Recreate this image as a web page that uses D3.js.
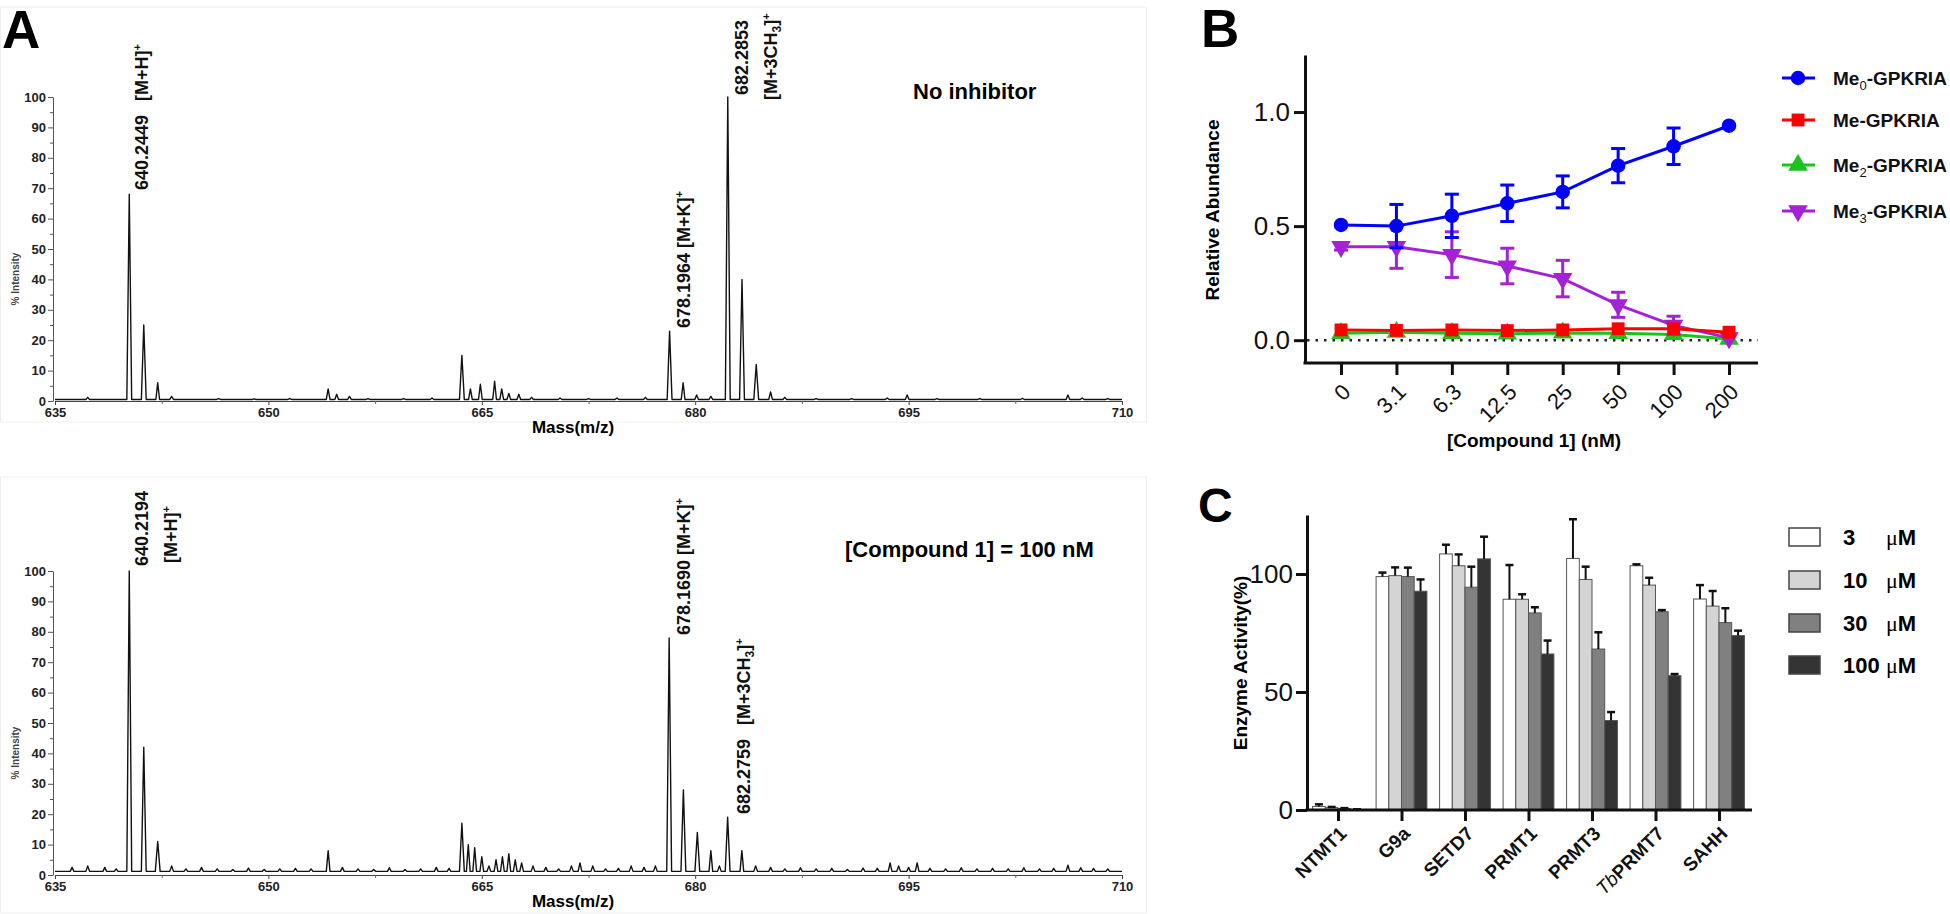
<!DOCTYPE html>
<html>
<head>
<meta charset="utf-8">
<script src="https://cdn.jsdelivr.net/npm/d3@7"></script>
<style>
  body { margin: 0; background: #fff; }
  svg { display: block; font-family: "Liberation Sans", Arial, sans-serif; }
</style>
</head>
<body>
<svg id="fig" width="1950" height="914"></svg>
<script>
// ---------- data ----------
// panel A: MALDI spectra, [m/z, % intensity]
const massTicks = [635, 650, 665, 680, 695, 710]
const massMinorTicks = [642.5, 657.5, 672.5, 687.5, 702.5]
const intensityTicks = [0, 10, 20, 30, 40, 50, 60, 70, 80, 90, 100]

const peaksNoInhibitor = [
  [637.3, 1.2], [640.22, 68], [641.24, 25], [642.22, 6], [643.2, 1.5],
  [646.5, 0.8], [649.0, 0.7], [651.5, 0.8],
  [654.2, 4], [654.8, 2.2], [655.7, 1.5], [657.0, 0.8], [659.5, 0.8], [661.5, 1],
  [663.6, 15], [664.2, 4], [664.9, 5.5], [665.9, 6.5], [666.4, 4], [666.9, 2.5],
  [667.6, 2.2], [668.5, 1.2], [670.5, 1], [672.5, 0.8], [674.5, 1], [676.5, 1.2],
  [678.2, 23], [679.15, 6], [680.1, 2], [681.1, 1.5],
  [682.29, 100], [683.29, 40], [684.29, 12], [685.3, 3], [686.3, 1.2],
  [688.5, 0.8], [691.0, 0.8], [693.5, 1], [694.9, 2], [697.0, 0.8], [700.0, 0.8],
  [703.0, 0.9], [706.2, 2], [707.2, 1], [709.0, 0.8]
]

const peaksCompound = [
  [636.2, 2.5], [637.3, 3], [638.5, 2.5], [639.3, 2], [640.22, 100], [641.24, 42],
  [642.22, 11], [643.2, 3], [644.2, 2], [645.3, 2.5], [646.4, 2], [647.5, 1.8],
  [648.6, 2.3], [649.7, 1.8], [650.8, 2], [651.9, 2.2], [653.0, 2], [654.2, 8],
  [655.2, 2.5], [656.3, 2], [657.4, 1.8], [658.5, 2.4], [659.6, 1.8], [660.7, 2],
  [661.8, 2.5], [662.7, 2.2], [663.6, 17], [664.05, 10], [664.5, 9], [665.0, 6],
  [665.5, 3], [666.0, 5], [666.45, 6], [666.9, 7], [667.35, 5], [667.8, 4],
  [668.6, 3], [669.5, 2.5], [670.4, 2], [671.3, 3], [671.9, 4], [672.8, 3],
  [673.7, 2], [674.6, 2.2], [675.5, 3], [676.4, 2.5], [677.2, 3],
  [678.17, 78], [679.17, 28], [680.15, 14], [681.1, 8], [681.7, 3], [682.28, 19],
  [683.28, 8], [684.25, 3], [685.3, 2.5], [686.3, 2], [687.4, 2.4], [688.5, 2],
  [689.6, 2.2], [690.7, 1.8], [691.8, 2.3], [692.8, 2.2], [693.7, 4], [694.3, 3],
  [695.0, 2.5], [695.6, 4], [696.5, 2.2], [697.6, 2], [698.7, 2.4], [699.8, 2],
  [700.9, 2.2], [702.0, 2], [703.1, 2.4], [704.2, 2], [705.2, 2.2], [706.2, 3.2],
  [707.1, 2.4], [708.0, 2.2], [709.0, 2]
]

// panel B: relative abundance vs [Compound 1]
const concLabels = ["0", "3.1", "6.3", "12.5", "25", "50", "100", "200"]
const me0 = [0.505, 0.50, 0.545, 0.60, 0.65, 0.765, 0.85, 0.94]
const me0Err = [0.01, 0.095, 0.095, 0.08, 0.07, 0.075, 0.08, 0.01]
const me1 = [0.045, 0.043, 0.045, 0.042, 0.045, 0.05, 0.05, 0.035]
const me1Err = [0.008, 0.008, 0.008, 0.008, 0.008, 0.01, 0.01, 0.006]
const me2 = [0.03, 0.035, 0.03, 0.028, 0.032, 0.03, 0.025, 0.005]
const me2Err = [0.005, 0.005, 0.005, 0.005, 0.005, 0.005, 0.005, 0.003]
const me3 = [0.41, 0.41, 0.375, 0.325, 0.27, 0.155, 0.065, 0.01]
const me3Err = [0.015, 0.095, 0.10, 0.078, 0.08, 0.055, 0.04, 0.005]

// panel C: enzyme activity (%)
const enzymes = ["NTMT1", "G9a", "SETD7", "PRMT1", "PRMT3", "TbPRMT7", "SAHH"]
const doses = ["3", "10", "30", "100"]
const act3 = [1.5, 98.9, 108.5, 89.3, 106.6, 103.5, 89.4]
const err3 = [0.9, 1.7, 3.9, 14.5, 16.6, 0.6, 5.9]
const act10 = [1.0, 99.3, 103.5, 89.3, 97.7, 95.3, 86.4]
const err10 = [0.3, 3.5, 4.8, 2.1, 5.4, 3.1, 6.4]
const act30 = [0.6, 98.9, 94.4, 83.5, 68.2, 84.0, 79.4]
const err30 = [0.2, 3.8, 8.7, 2.4, 7.1, 0.7, 6.1]
const act100 = [0.2, 92.7, 106.4, 66.1, 37.9, 56.9, 73.9]
const err100 = [0.1, 5.0, 9.4, 5.7, 3.6, 0.7, 2.1]

// ---------- drawing ----------
const svg = d3.select("#fig")

const panelLetter = (x, y, t, size) => svg.append("text")
  .attr("x", x).attr("y", y).attr("font-size", size).attr("font-weight", "bold").text(t)

panelLetter(2, 48, "A", 53)
panelLetter(1201, 47, "B", 53)
panelLetter(1198, 522, "C", 48)

// ----- panel A -----
const xMass = d3.scaleLinear().domain([635, 710]).range([55, 1122])

function profile(peaks, base) {
  const pts = [[635, base]]
  peaks.slice().sort((a, b) => a[0] - b[0]).forEach(([m, h]) => {
    const w = h > 10 ? 0.17 : 0.13
    pts.push([m - w, base], [m, h], [m + w, base])
  })
  pts.push([710, base])
  return pts
}

function spectrum(peaks, base, y0, y100, frameTop, frameBottom) {
  const y = d3.scaleLinear().domain([0, 100]).range([y0, y100])
  const g = svg.append("g")

  g.append("rect")
    .attr("x", 0.5).attr("y", frameTop).attr("width", 1146).attr("height", frameBottom - frameTop)
    .attr("fill", "none").attr("stroke", "#efefef")

  const yAxis = g.append("g").attr("transform", "translate(53,0)")
    .call(d3.axisLeft(y).tickValues(intensityTicks).tickSize(5).tickSizeOuter(0).tickPadding(2))
  yAxis.selectAll("text").attr("font-size", 13).attr("font-weight", "bold").attr("fill", "#222")
  yAxis.selectAll("path,line").attr("stroke", "#555")
  g.append("g").attr("transform", "translate(53,0)")
    .call(d3.axisLeft(y).tickValues(d3.range(5, 100, 10)).tickSize(3).tickFormat(""))
    .call(a => a.select(".domain").remove())
    .selectAll("line").attr("stroke", "#555")

  const xAxis = g.append("g").attr("transform", `translate(0,${y0})`)
    .call(d3.axisBottom(xMass).tickValues(massTicks).tickSize(4).tickSizeOuter(0))
  xAxis.selectAll("text").attr("font-size", 13).attr("font-weight", "bold").attr("fill", "#222")
  xAxis.selectAll("path,line").attr("stroke", "#444")
  g.append("g").attr("transform", `translate(0,${y0})`)
    .call(d3.axisBottom(xMass).tickValues(massMinorTicks).tickSize(3).tickFormat(""))
    .call(a => a.select(".domain").remove())
    .selectAll("line").attr("stroke", "#666")

  g.append("text").attr("transform", `translate(19,${(y0 + y100) / 2 + 30}) rotate(-90)`)
    .attr("text-anchor", "middle").attr("font-size", 10).attr("font-weight", "bold")
    .attr("fill", "#444").text("% Intensity")

  g.append("text").attr("x", 573).attr("y", y0 + 32).attr("text-anchor", "middle")
    .attr("font-size", 17).attr("font-weight", "bold").text("Mass(m/z)")

  const line = d3.line().x(d => xMass(d[0])).y(d => y(d[1]))
  g.append("path").datum(profile(peaks, base))
    .attr("d", line).attr("fill", "none").attr("stroke", "#111").attr("stroke-width", 1.4)
    .attr("stroke-linejoin", "round")
  return y
}

spectrum(peaksNoInhibitor, 0.5, 401, 97, 7, 422)
spectrum(peaksCompound, 1.2, 875, 571, 477, 913)

// rotated peak annotations: parts = [text, kind, dx], kind n / sup / sub
function vlabel(x, y, parts) {
  const t = svg.append("text").attr("transform", `translate(${x},${y}) rotate(-90)`)
    .attr("font-size", 18).attr("font-weight", "bold").attr("fill", "#111")
  let shift = 0
  parts.forEach(([s, kind, dx]) => {
    const sp = t.append("tspan").text(s)
    if (dx) sp.attr("dx", dx)
    let target = 0
    if (kind === "sup") { target = -7; sp.attr("font-size", 11) }
    if (kind === "sub") { target = 4; sp.attr("font-size", 12) }
    sp.attr("dy", target - shift)
    shift = target
  })
}

vlabel(148, 190, [["640.2449"], ["[M+H]", "n", 14], ["+", "sup"]])
vlabel(690, 328, [["678.1964 [M+K]"], ["+", "sup"]])
vlabel(748, 95, [["682.2853"]])
vlabel(777, 100, [["[M+3CH"], ["3", "sub"], ["]"], ["+", "sup"]])

vlabel(148, 566, [["640.2194"]])
vlabel(177, 563, [["[M+H]"], ["+", "sup"]])
vlabel(690, 635, [["678.1690 [M+K]"], ["+", "sup"]])
vlabel(750, 814, [["682.2759"], ["[M+3CH", "n", 14], ["3", "sub"], ["]"], ["+", "sup"]])

svg.append("text").attr("x", 913).attr("y", 99).attr("font-size", 22)
  .attr("font-weight", "bold").text("No inhibitor")
svg.append("text").attr("x", 845).attr("y", 557).attr("font-size", 22)
  .attr("font-weight", "bold").text("[Compound 1] = 100 nM")

// ----- panel B -----
const xConc = d3.scalePoint().domain(concLabels).range([1341, 1729])
const yAb = d3.scaleLinear().domain([-0.1, 1.25]).range([363, 55])

const bAxisY = svg.append("g").attr("transform", "translate(1305,0)")
  .call(d3.axisLeft(yAb).tickValues([0, 0.5, 1]).tickFormat(d3.format(".1f")).tickSize(11).tickSizeOuter(0).tickPadding(4))
bAxisY.selectAll("text").attr("font-size", 26).attr("fill", "#111")
bAxisY.selectAll("path,line").attr("stroke", "#111").attr("stroke-width", 3)

const bAxisX = svg.append("g").attr("transform", "translate(0,363)")
  .call(d3.axisBottom(xConc).tickSize(12))
bAxisX.select(".domain").remove()
bAxisX.selectAll("line").attr("stroke", "#111").attr("stroke-width", 3)
bAxisX.selectAll("text")
  .attr("font-size", 22).attr("fill", "#111")
  .attr("x", 0).attr("y", 0).attr("dy", "0.35em")
  .attr("transform", "translate(5,25) rotate(-45)")
  .style("text-anchor", "end")
svg.append("line").attr("x1", 1303.5).attr("x2", 1758).attr("y1", 363).attr("y2", 363)
  .attr("stroke", "#111").attr("stroke-width", 3)

svg.append("line").attr("x1", 1307).attr("x2", 1758).attr("y1", yAb(0)).attr("y2", yAb(0))
  .attr("stroke", "#222").attr("stroke-width", 2.5).attr("stroke-dasharray", "2.5,6")

svg.append("text").attr("transform", "translate(1219,210) rotate(-90)")
  .attr("text-anchor", "middle").attr("font-size", 19).attr("font-weight", "bold").text("Relative Abundance")
svg.append("text").attr("x", 1534).attr("y", 447).attr("text-anchor", "middle")
  .attr("font-size", 19).attr("font-weight", "bold").text("[Compound 1] (nM)")

const seriesB = [
  { key: "me2", vals: me2, err: me2Err, color: "#1ec21e", shape: d3.symbolTriangle, sub: "2" },
  { key: "me3", vals: me3, err: me3Err, color: "#a322d6", shape: "down", sub: "3" },
  { key: "me1", vals: me1, err: me1Err, color: "#ff0000", shape: d3.symbolSquare, sub: "" },
  { key: "me0", vals: me0, err: me0Err, color: "#0000ff", shape: d3.symbolCircle, sub: "0" }
]

function marker(g, shape, color, x, y) {
  if (shape === "down") {
    g.append("path").attr("d", d3.symbol(d3.symbolTriangle, 165)())
      .attr("transform", `translate(${x},${y}) rotate(180)`).attr("fill", color)
  } else {
    g.append("path").attr("d", d3.symbol(shape, 165)())
      .attr("transform", `translate(${x},${y})`).attr("fill", color)
  }
}

seriesB.forEach(s => {
  const g = svg.append("g")
  const line = d3.line().x((d, i) => xConc(concLabels[i])).y(d => yAb(d))
  g.append("path").datum(s.vals).attr("d", line).attr("fill", "none")
    .attr("stroke", s.color).attr("stroke-width", 3)
  s.vals.forEach((v, i) => {
    const x = xConc(concLabels[i])
    const e = s.err[i]
    if (e > 0.012) {
      g.append("line").attr("x1", x).attr("x2", x).attr("y1", yAb(v - e)).attr("y2", yAb(v + e))
        .attr("stroke", s.color).attr("stroke-width", 3)
      ;[v - e, v + e].forEach(c => g.append("line").attr("x1", x - 7).attr("x2", x + 7)
        .attr("y1", yAb(c)).attr("y2", yAb(c)).attr("stroke", s.color).attr("stroke-width", 3))
    }
    marker(g, s.shape, s.color, x, yAb(v))
  })
})

// legend B (order as in the figure)
const legendOrder = ["me0", "me1", "me2", "me3"]
const legendRows = [78, 120, 165, 211]
legendOrder.forEach((k, i) => {
  const s = seriesB.find(d => d.key === k)
  const y = legendRows[i]
  svg.append("line").attr("x1", 1782).attr("x2", 1815).attr("y1", y).attr("y2", y)
    .attr("stroke", s.color).attr("stroke-width", 3)
  marker(svg, s.shape, s.color, 1798, y)
  const t = svg.append("text").attr("x", 1833).attr("y", y + 7)
    .attr("font-size", 19).attr("font-weight", "bold").attr("fill", "#111")
  t.append("tspan").text("Me")
  if (s.sub) {
    t.append("tspan").attr("dy", 5).attr("font-size", 13).attr("font-weight", "normal").text(s.sub)
    t.append("tspan").attr("dy", -5).text("-GPKRIA")
  } else {
    t.append("tspan").text("-GPKRIA")
  }
})

// ----- panel C -----
const xEnz = d3.scalePoint().domain(enzymes).range([1338, 1719])
const yAct = d3.scaleLinear().domain([0, 125]).range([810, 515])
const barW = 12.7
const doseFill = ["#ffffff", "#d4d4d4", "#808080", "#333333"]
const doseVals = [act3, act10, act30, act100]
const doseErr = [err3, err10, err30, err100]

const cAxisY = svg.append("g").attr("transform", "translate(1307,0)")
  .call(d3.axisLeft(yAct).tickValues([0, 50, 100]).tickSize(11).tickSizeOuter(0).tickPadding(3))
cAxisY.selectAll("text").attr("font-size", 26).attr("fill", "#111")
cAxisY.selectAll("path,line").attr("stroke", "#111").attr("stroke-width", 3)

const bars = svg.append("g")
enzymes.forEach((enz, i) => {
  doses.forEach((dose, j) => {
    const v = doseVals[j][i]
    const e = doseErr[j][i]
    const x0 = xEnz(enz) + (j - 2) * barW
    bars.append("rect").attr("x", x0).attr("y", yAct(v)).attr("width", barW)
      .attr("height", yAct(0) - yAct(v)).attr("fill", doseFill[j])
      .attr("stroke", "#555").attr("stroke-width", 1)
    const cx = x0 + barW / 2
    bars.append("line").attr("x1", cx).attr("x2", cx).attr("y1", yAct(v)).attr("y2", yAct(v + e))
      .attr("stroke", "#111").attr("stroke-width", 2)
    bars.append("line").attr("x1", cx - 4).attr("x2", cx + 4).attr("y1", yAct(v + e)).attr("y2", yAct(v + e))
      .attr("stroke", "#111").attr("stroke-width", 2.5)
  })
})

const cAxisX = svg.append("g").attr("transform", "translate(0,810)")
  .call(d3.axisBottom(xEnz).tickSize(11))
cAxisX.select(".domain").remove()
cAxisX.selectAll("line").attr("stroke", "#111").attr("stroke-width", 3)
cAxisX.selectAll("text").remove()
svg.append("line").attr("x1", 1305.5).attr("x2", 1752).attr("y1", 810).attr("y2", 810)
  .attr("stroke", "#111").attr("stroke-width", 3)

enzymes.forEach(enz => {
  const t = svg.append("text").attr("transform", `translate(${xEnz(enz) + 5},${830}) rotate(-45)`)
    .attr("text-anchor", "end").attr("dy", "0.35em").attr("font-size", 19)
    .attr("font-weight", "bold").attr("fill", "#111")
  if (enz.startsWith("Tb")) {
    t.append("tspan").attr("font-style", "italic").attr("font-weight", "normal").text("Tb")
    t.append("tspan").text(enz.slice(2))
  } else {
    t.text(enz)
  }
})

svg.append("text").attr("transform", "translate(1247,663) rotate(-90)")
  .attr("text-anchor", "middle").attr("font-size", 19).attr("font-weight", "bold").text("Enzyme Activity(%)")

// legend C
const legendCRows = [537, 580, 623, 665]
doses.forEach((dose, j) => {
  const y = legendCRows[j]
  svg.append("rect").attr("x", 1789).attr("y", y - 9).attr("width", 31).attr("height", 18)
    .attr("fill", doseFill[j]).attr("stroke", "#444").attr("stroke-width", 1.5)
  svg.append("text").attr("x", 1843).attr("y", y + 8).attr("font-size", 22)
    .attr("font-weight", "bold").text(dose)
  const t = svg.append("text").attr("x", 1886).attr("y", y + 8).attr("font-size", 22)
  t.append("tspan").attr("font-family", "'Liberation Serif', 'DejaVu Serif', serif").text("μ")
  t.append("tspan").attr("font-weight", "bold").text("M")
})
</script>
</body>
</html>
